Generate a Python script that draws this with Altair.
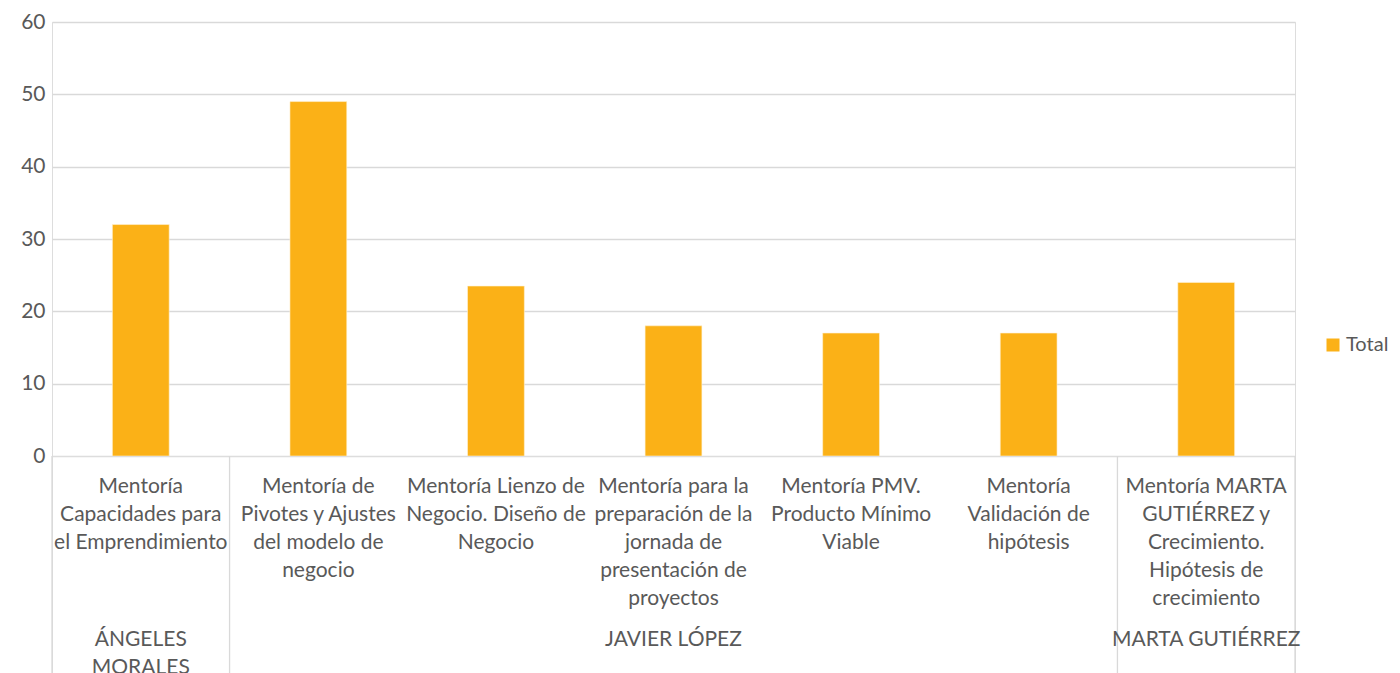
import altair as alt
import pandas as pd

categories = [
    "Mentoría\nCapacidades para\nel Emprendimiento",
    "Mentoría de\nPivotes y Ajustes\ndel modelo de\nnegocio",
    "Mentoría Lienzo de\nNegocio. Diseño de\nNegocio",
    "Mentoría para la\npreparación de la\njornada de\npresentación de\nproyectos",
    "Mentoría PMV.\nProducto Mínimo\nViable",
    "Mentoría\nValidación de\nhipótesis",
    "Mentoría MARTA\nGUTIÉRREZ y\nCrecimiento.\nHipótesis de\ncrecimiento",
]
groups = ["ÁNGELES\nMORALES", "JAVIER LÓPEZ", "JAVIER LÓPEZ", "JAVIER LÓPEZ",
          "JAVIER LÓPEZ", "JAVIER LÓPEZ", "MARTA GUTIÉRREZ"]
values = [32, 49, 23.5, 18, 17, 17, 24]
series_name = "Total"

FONT = "Lato"
FS = 21
TXT = "#595959"
BAR = "#FBB117"
GRID = "#D9D9D9"
W, H = 1243, 434

df = pd.DataFrame({"idx": range(len(categories)), "cat": categories,
                   "grp": groups, "value": values, "series": series_name})

# group spans
gdf = df.groupby("grp", sort=False)["idx"].agg(["min", "max"]).reset_index()
gdf["start"] = gdf["min"]
gdf["end"] = gdf["max"] + 1
bounds = sorted(set(gdf["start"]).union(set(gdf["end"])))
bdf = pd.DataFrame({"b": bounds})

xscale = alt.Scale(domain=[0, len(categories)], nice=False, zero=False, padding=0)

bars = alt.Chart(df).transform_calculate(
    x0="datum.idx + 0.34", x1="datum.idx + 0.66"
).mark_bar(orient="vertical", stroke="#FFF3D6", strokeWidth=0.6).encode(
    x=alt.X("x0:Q", scale=xscale, axis=None),
    x2="x1:Q",
    y=alt.Y("value:Q", scale=alt.Scale(domain=[0, 60], nice=False, padding=0),
            axis=alt.Axis(values=[0, 10, 20, 30, 40, 50, 60], title=None,
                          domain=False, ticks=False, grid=True,
                          gridColor=GRID, gridWidth=1.3,
                          labelColor=TXT, labelFont=FONT, labelFontSize=FS,
                          labelPadding=7)),
    y2=alt.datum(0),
    color=alt.Color("series:N", scale=alt.Scale(range=[BAR]),
                    legend=alt.Legend(title=None, orient="none", legendX=1271,
                                      legendY=313, symbolType="square",
                                      symbolSize=169, symbolStrokeWidth=0,
                                      labelFont=FONT, labelFontSize=20,
                                      labelColor=TXT, padding=0,
                                      labelOffset=3)),
).properties(width=W, height=H)

BH = 240
cat_text = alt.Chart(df).transform_calculate(
    xc="datum.idx + 0.5"
).mark_text(font=FONT, fontSize=FS, color=TXT, baseline="top",
            align="center", lineBreak="\n", lineHeight=28).encode(
    x=alt.X("xc:Q", scale=xscale, axis=None),
    y=alt.value(20),
    text="cat:N",
)
grp_text = alt.Chart(gdf).transform_calculate(
    xc="(datum.start + datum.end) / 2"
).mark_text(font=FONT, fontSize=FS, color=TXT, baseline="top",
            align="center", lineBreak="\n", lineHeight=28).encode(
    x=alt.X("xc:Q", scale=xscale, axis=None),
    y=alt.value(173),
    text="grp:N",
)
seps = alt.Chart(bdf).mark_rule(color=GRID, strokeWidth=1.3).encode(
    x=alt.X("b:Q", scale=xscale, axis=None),
    y=alt.value(0), y2=alt.value(BH),
)
bottom = alt.layer(seps, cat_text, grp_text).properties(width=W, height=BH)

chart = alt.vconcat(bars, bottom, spacing=0).properties(
    bounds="flush",
    padding={"left": 12, "top": 2, "right": 0, "bottom": 0},
).configure_view(stroke=None).configure(font=FONT)

chart.save("out.html", embed_options={"renderer": "svg", "actions": False})
